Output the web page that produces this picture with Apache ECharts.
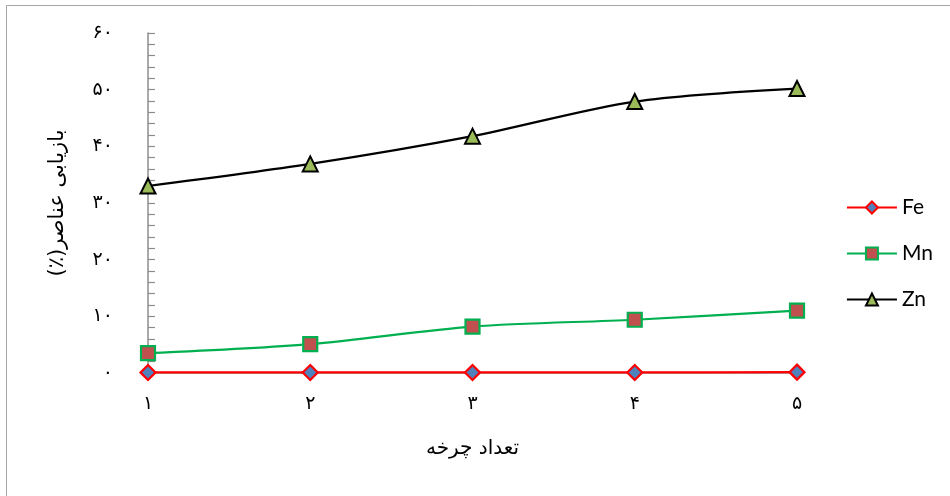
<!DOCTYPE html>
<html>
<head>
<meta charset="utf-8">
<script src="https://cdn.jsdelivr.net/npm/echarts@6/dist/echarts.min.js"></script>
<style>
  html, body { margin: 0; padding: 0; background: #fff; }
  #chart { width: 950px; height: 496px; }
</style>
</head>
<body>
<div id="chart"></div>
<script>
// Recovery of elements per leaching cycle
const cycles = ['1', '2', '3', '4', '5'];
const feValues = [0.1, 0.1, 0.1, 0.1, 0.15];
const mnValues = [3.5, 5.1, 8.2, 9.4, 11.0];
const znValues = [33.0, 36.9, 41.8, 47.9, 50.2];
const yTicks = [0, 10, 20, 30, 40, 50, 60];
const persianDigits = ['۰', '۱', '۲', '۳', '۴', '۵', '۶', '۷', '۸', '۹'];

const toPersian = v => String(v).replace(/[0-9]/g, d => persianDigits[+d]);
// wrap right-to-left text in RLM marks so the canvas lays it out RTL
const rtl = s => '\u200F' + s + '\u200F';
const faFont = '"DejaVu Sans", sans-serif';
const enFont = 'Lato, "Open Sans", sans-serif';

const chart = echarts.init(document.getElementById('chart'));
chart.setOption({
  animation: false,
  backgroundColor: '#fff',
  graphic: [{
    type: 'rect',
    shape: { x: 6.5, y: 5.5, width: 960, height: 520 },
    style: { fill: 'none', stroke: '#a6a6a6', lineWidth: 1 },
    silent: true
  }],
  grid: { left: 148, right: 153, top: 33, bottom: 123 },
  legend: {
    orient: 'vertical',
    right: 12,
    top: 192,
    itemGap: 25,
    itemWidth: 50,
    itemHeight: 15,
    textStyle: { fontFamily: enFont, fontSize: 21, color: '#000', padding: [0, 0, 0, 0] },
    data: ['Fe', 'Mn', 'Zn']
  },
  xAxis: {
    type: 'category',
    data: cycles,
    boundaryGap: false,
    name: rtl('تعداد چرخه'),
    nameLocation: 'middle',
    nameGap: 66,
    nameTextStyle: { fontFamily: faFont, fontSize: 20, color: '#000' },
    axisLine: { show: true, lineStyle: { color: '#8c8c8c', width: 1.5 } },
    axisTick: { show: false },
    axisLabel: {
      margin: 22,
      fontFamily: faFont,
      fontSize: 19,
      color: '#000',
      formatter: v => toPersian(v)
    },
    splitLine: { show: false }
  },
  yAxis: {
    type: 'value',
    min: yTicks[0],
    max: yTicks[yTicks.length - 1],
    interval: 10,
    name: rtl('بازیابی عناصر(٪)'),
    nameLocation: 'middle',
    nameRotate: 90,
    nameGap: 80,
    nameTextStyle: { fontFamily: faFont, fontSize: 21, color: '#000' },
    axisLine: { show: true, lineStyle: { color: '#8c8c8c', width: 1.5 } },
    axisTick: { show: true, inside: true, length: 7, lineStyle: { color: '#8c8c8c', width: 1.2 } },
    minorTick: { show: true, splitNumber: 5, length: 7, lineStyle: { color: '#8c8c8c', width: 1.2 } },
    axisLabel: {
      margin: 35,
      fontFamily: faFont,
      fontSize: 19,
      color: '#000',
      formatter: v => toPersian(v)
    },
    splitLine: { show: false }
  },
  series: [
    {
      name: 'Fe',
      type: 'line',
      data: feValues,
      smooth: 0.3,
      symbol: 'diamond',
      symbolSize: 15,
      lineStyle: { color: '#ff0000', width: 2.2 },
      itemStyle: { color: '#4f81bd', borderColor: '#ff0000', borderWidth: 2.2 },
      z: 4
    },
    {
      name: 'Mn',
      type: 'line',
      data: mnValues,
      smooth: 0.3,
      symbol: 'rect',
      symbolSize: 14,
      lineStyle: { color: '#00b050', width: 2.2 },
      itemStyle: { color: '#c0504d', borderColor: '#00b050', borderWidth: 2.2 },
      z: 3
    },
    {
      name: 'Zn',
      type: 'line',
      data: znValues,
      smooth: 0.3,
      symbol: 'triangle',
      symbolSize: 15,
      lineStyle: { color: '#000000', width: 2.2 },
      itemStyle: { color: '#9bbb59', borderColor: '#000000', borderWidth: 2 },
      z: 3
    }
  ]
});
</script>
</body>
</html>
